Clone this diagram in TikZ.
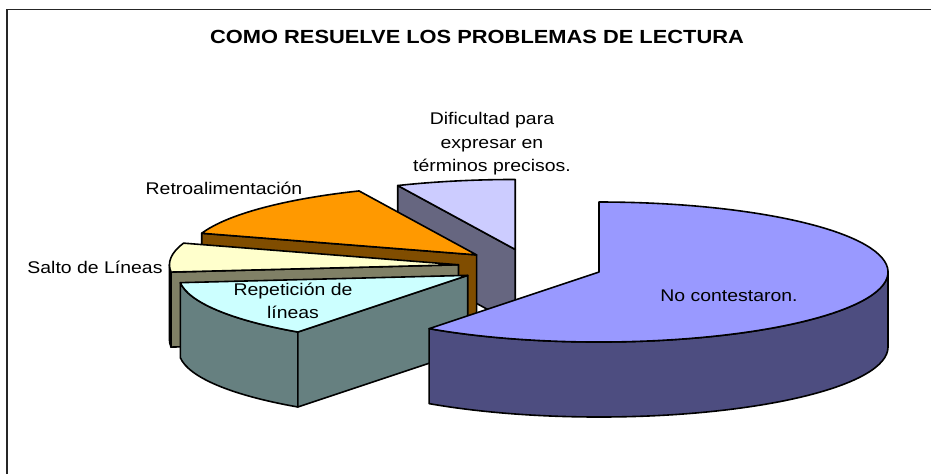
\documentclass[tikz,border=0pt]{standalone}
\usepackage{fontspec}
\setmainfont{Liberation Sans}[FakeStretch=1.15]
\usetikzlibrary{calc}

\definecolor{noTop}{HTML}{9999FF}
\definecolor{noSide}{HTML}{4D4D80}
\definecolor{difTop}{HTML}{CCCCFF}
\definecolor{difSide}{HTML}{666680}
\definecolor{retTop}{HTML}{FF9900}
\definecolor{retSide}{HTML}{804D00}
\definecolor{salTop}{HTML}{FFFFCC}
\definecolor{salSide}{HTML}{808066}
\definecolor{repTop}{HTML}{CCFFFF}
\definecolor{repSide}{HTML}{668080}

\tikzset{
  slice/.style={draw=black, line width=1.6pt, line join=round},
  rim/.style={x radius=289pt, y radius=70pt},
  lbl/.style={font=\fontsize{16.9}{23.5}\selectfont, align=center, inner sep=0pt},
  ttl/.style={font=\fontsize{19}{23}\selectfont\bfseries, inner sep=0pt}
}

\begin{document}
\begin{tikzpicture}[x=1pt, y=1pt]
\useasboundingbox (0,0) rectangle (931,-474);
\draw[line width=1.3pt, black!85] (7,-474) -- (7,-9.3) -- (931,-9.3);

% pie center and exploded slice tips
\coordinate (C) at (530.3,-266.6);
\coordinate (dif) at ($(C)+(102:72.25pt and 17.5pt)$);
\coordinate (ret) at ($(C)+(138:72.25pt and 17.5pt)$);
\coordinate (sal) at ($(C)+(174:72.25pt and 17.5pt)$);
\coordinate (rep) at ($(C)+(210:72.25pt and 17.5pt)$);
\coordinate (noc) at ($(C)+(-18:72.25pt and 17.5pt)$);

% Dificultad
\draw[slice, fill=difSide] (dif) -- ++(114:289pt and 70pt) -- ++(0,-75) -- ($(dif)+(0,-75)$) -- cycle;
\draw[slice, fill=difTop] (dif) -- ++(90:289pt and 70pt)
  arc[rim, start angle=90, end angle=114] -- cycle;

% Retroalimentacion
\draw[slice, fill=retSide] (ret) -- ++(162:289pt and 70pt) -- ++(0,-75) -- ($(ret)+(0,-75)$) -- cycle;
\draw[slice, fill=retTop] (ret) -- ++(114:289pt and 70pt)
  arc[rim, start angle=114, end angle=162] -- cycle;

% Salto de lineas
\draw[slice, fill=salSide] (sal) -- ++(186:289pt and 70pt) -- ++(0,-75) -- ($(sal)+(0,-75)$) -- cycle;
\draw[slice, fill=salSide] ($(sal)+(180:289pt and 70pt)$)
  arc[rim, start angle=180, end angle=186] -- ++(0,-75)
  arc[rim, start angle=186, end angle=180] -- cycle;
\draw[slice, fill=salTop] (sal) -- ++(162:289pt and 70pt)
  arc[rim, start angle=162, end angle=186] -- cycle;

% Repeticion de lineas
\draw[slice, fill=repSide] ($(rep)+(186:289pt and 70pt)$)
  arc[rim, start angle=186, end angle=234] -- ++(0,-75)
  arc[rim, start angle=234, end angle=186] -- cycle;
\draw[slice, fill=repSide] (rep) -- ++(234:289pt and 70pt) -- ++(0,-75) -- ($(rep)+(0,-75)$) -- cycle;
\draw[slice, fill=repTop] (rep) -- ++(186:289pt and 70pt)
  arc[rim, start angle=186, end angle=234] -- cycle;

% No contestaron
\draw[slice, fill=noSide] ($(noc)+(234:289pt and 70pt)$)
  arc[rim, start angle=234, end angle=360] -- ++(0,-75)
  arc[rim, start angle=360, end angle=234] -- cycle;
\draw[slice, fill=noTop] (noc) -- ++(234:289pt and 70pt)
  arc[rim, start angle=234, end angle=450] -- cycle;

% labels
\node[ttl] (title) at (477,-37) {COMO RESUELVE LOS PROBLEMAS DE LECTURA};
\node[lbl] (ldif) at (492,-144) {Dificultad para\\expresar en\\términos precisos.};
\node[lbl] (lret) at (224,-188) {Retroalimentación};
\node[lbl] (lsal) at (95,-267) {Salto de Líneas};
\node[lbl] (lrep) at (293,-301) {Repetición de\\líneas};
\node[lbl] (lnoc) at (729,-296) {No contestaron.};
\end{tikzpicture}
\end{document}
